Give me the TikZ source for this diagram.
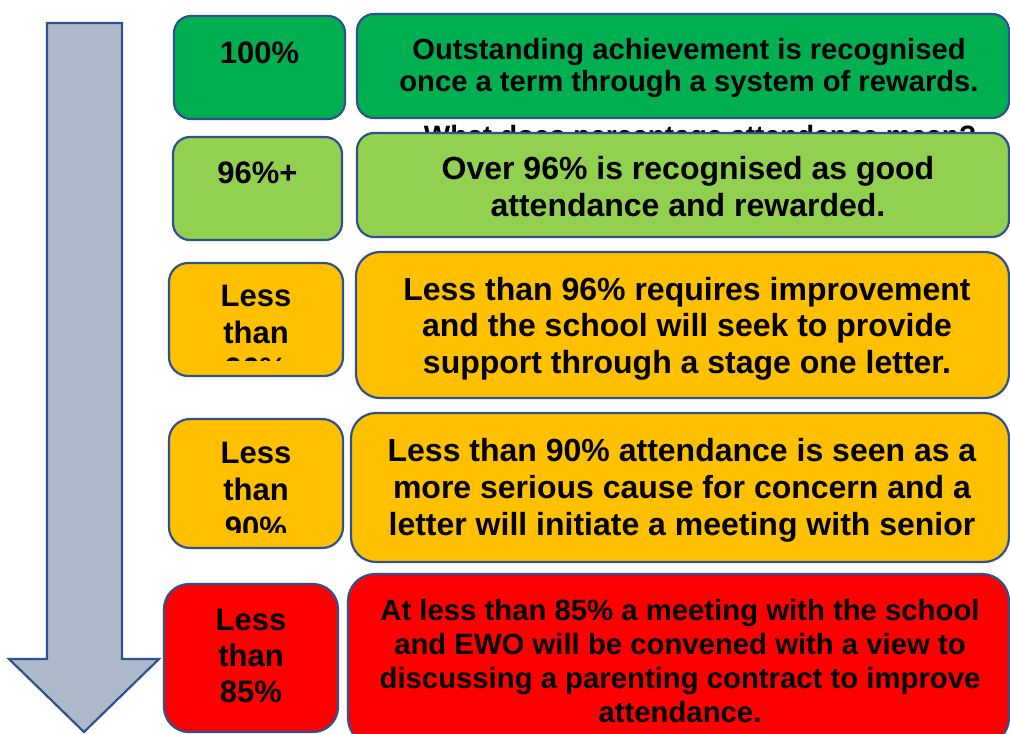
\documentclass[tikz,border=0pt]{standalone}
\usepackage{fontspec}
\setmainfont{Liberation Sans}
\definecolor{dkgreen}{HTML}{00B050}
\definecolor{ltgreen}{HTML}{92D050}
\definecolor{amber}{HTML}{FFC000}
\definecolor{alarm}{HTML}{FF0000}
\definecolor{edgeblue}{HTML}{2F528F}
\definecolor{arrowgrey}{HTML}{ADB9CA}
\tikzset{
  box/.style={draw=edgeblue, line width=2.2pt, inner sep=0pt, outer sep=0pt},
  txt/.style={inner sep=0pt, outer sep=0pt, align=center},
  fs/.style 2 args={font=\fontsize{#1}{#2}\selectfont\bfseries},
  bigarrow/.style={draw=edgeblue, line width=2.2pt, fill=arrowgrey, line join=miter},
}
\begin{document}
\begin{tikzpicture}[x=1pt,y=-1pt]
\useasboundingbox (0,0) rectangle (1010,734);
\clip (0,0) rectangle (1010,734);
\fill[white] (0,0) rectangle (1010,734);
% big arrow
\draw[bigarrow] (47,23) -- (122,23) -- (122,659) -- (159,659) -- (84,732) -- (9,659) -- (47,659) -- cycle;

% left boxes
\node[box, fill=dkgreen, minimum width=171pt, minimum height=103pt, rounded corners=17pt] (l1) at (259.5,67.5) {};
\node[txt, fs={31}{36.5}, anchor=base] (t1) at (259.5,63.3) {100\%};

\node[box, fill=ltgreen, minimum width=169pt, minimum height=103pt, rounded corners=17pt] (l2) at (257.5,188.5) {};
\node[txt, fs={31}{36.5}, anchor=base] (t2) at (257.5,183.3) {96\%+};

\node[box, fill=amber, minimum width=174pt, minimum height=113pt, rounded corners=19pt] (l3) at (256,319.5) {};
\begin{scope}
  \clip (169,263) rectangle (343,360);
  \node[txt, fs={31}{36.6}, anchor=north] (t3) at (256,281.1) {\strut Less\\\strut than\\\strut 96\%};
\end{scope}

\node[box, fill=amber, minimum width=174pt, minimum height=129pt, rounded corners=21pt] (l4) at (256,483.5) {};
\begin{scope}
  \clip (169,419) rectangle (343,532);
  \node[txt, fs={31}{37.4}, anchor=north] (t4) at (256,437.1) {\strut Less\\\strut than\\\strut 90\%};
\end{scope}

\node[box, fill=alarm, minimum width=174pt, minimum height=148pt, rounded corners=25pt] (l5) at (251,658) {};
\node[txt, fs={31}{36}, anchor=north] (t5) at (251,604.8) {\strut Less\\\strut than\\\strut 85\%};

% hidden title text (behind second box)
\node[txt, fs={28}{32}, anchor=base] (title) at (700,145) {What does percentage attendance mean?};

% right boxes
\node[box, fill=dkgreen, minimum width=652pt, minimum height=104pt, rounded corners=17pt] (r1) at (683,66) {};
\node[txt, fs={29.2}{32}, anchor=north] (d1) at (689,36.6) {\strut Outstanding achievement is recognised\\\strut once a term through a system of rewards.};

\node[box, fill=ltgreen, minimum width=652pt, minimum height=104pt, rounded corners=17pt] (r2) at (683,185) {};
\node[txt, fs={32}{37}, anchor=north] (d2) at (688,153.1) {\strut Over 96\% is recognised as good\\\strut attendance and rewarded.};

\node[box, fill=amber, minimum width=653pt, minimum height=146pt, rounded corners=24pt] (r3) at (682.5,325) {};
\node[txt, fs={32}{36.5}, anchor=north] (d3) at (687,274.5) {\strut Less than 96\% requires improvement\\\strut and the school will seek to provide\\\strut support through a stage one letter.};

\node[box, fill=amber, minimum width=658pt, minimum height=149pt, rounded corners=25pt] (r4) at (680,487.5) {};
\node[txt, fs={32}{36.7}, anchor=north] (d4) at (682,436) {\strut Less than 90\% attendance is seen as a\\\strut more serious cause for concern and a\\\strut letter will initiate a meeting with senior};

\node[box, fill=alarm, minimum width=661pt, minimum height=171pt, rounded corners=27pt] (r5) at (678.5,659.5) {};
\node[txt, fs={29.3}{34}, anchor=north] (d5) at (680,596.2) {\strut At less than 85\% a meeting with the school\\\strut and EWO will be convened with a view to\\\strut discussing a parenting contract to improve\\\strut attendance.};
\end{tikzpicture}
\end{document}
